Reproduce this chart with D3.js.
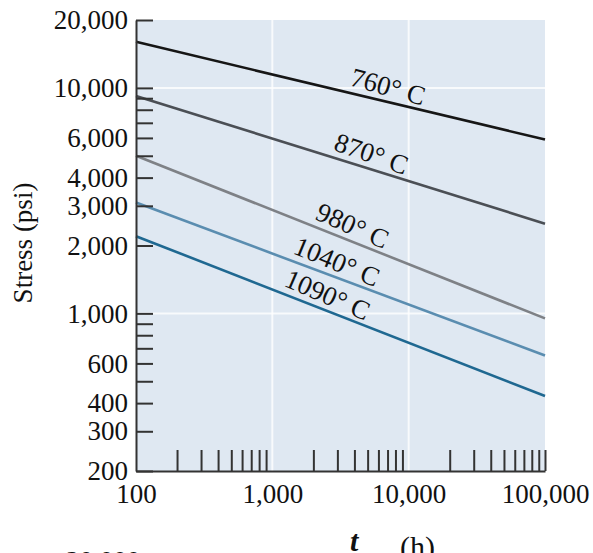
<!DOCTYPE html>
<html>
<head>
<meta charset="utf-8">
<script src="https://cdn.jsdelivr.net/npm/d3@7"></script>
<style>
  body { margin: 0; background: #fff; }
  svg { display: block; font-family: "Liberation Serif", "DejaVu Serif", serif; }
</style>
</head>
<body>
<svg class="chart" width="593" height="553"></svg>
<script>
// rupture curves, stress in psi at 100 h and at 100,000 h
var temps = ["760° C", "870° C", "980° C", "1040° C", "1090° C"];
var stressAt100h = [16000, 9200, 5000, 3100, 2200];
var stressAt100kh = [5900, 2500, 950, 650, 430];
var labelHours = [6600, 4900, 3500, 2700, 2300];
var colors = ["#161616", "#4b4f55", "#7e8186", "#5a8db0", "#1f6891"];

var yTicks = [20000, 10000, 9000, 8000, 7000, 6000, 5000, 4000, 3000, 2000,
              1000, 900, 800, 700, 600, 500, 400, 300, 200];
var yLabels = [20000, 10000, 6000, 4000, 3000, 2000, 1000, 600, 400, 300, 200];
var xMinor = [200, 300, 400, 500, 600, 700, 800, 900,
              2000, 3000, 4000, 5000, 6000, 7000, 8000, 9000,
              20000, 30000, 40000, 50000, 60000, 70000, 80000, 90000, 100000];
var xLabels = [100, 1000, 10000, 100000];
var gridX = [1000, 10000];
var gridY = [10000, 1000];

var svg = d3.select(".chart");
var plotL = 136, plotR = 545, plotT = 20, plotB = 471;

var x = d3.scaleLog().domain([100, 100000]).range([plotL, plotR]);
var y = d3.scaleLog().domain([200, 20000]).range([plotB, plotT]);
var fmt = d3.format(",");

// plot background
svg.append("rect")
    .attr("x", plotL).attr("y", plotT)
    .attr("width", plotR - plotL).attr("height", plotB - plotT)
    .attr("fill", "#dfe8f2");

// white grid
svg.selectAll(".gx").data(gridX).enter().append("line")
    .attr("x1", x).attr("x2", x)
    .attr("y1", plotT).attr("y2", plotB)
    .attr("stroke", "#fff").attr("stroke-width", 2).attr("opacity", 0.8);
svg.selectAll(".gy").data(gridY).enter().append("line")
    .attr("x1", plotL).attr("x2", plotR)
    .attr("y1", y).attr("y2", y)
    .attr("stroke", "#fff").attr("stroke-width", 2).attr("opacity", 0.8);

// curves
var line = d3.line()
    .x(function (d) { return x(d[0]); })
    .y(function (d) { return y(d[1]); });

temps.forEach(function (t, i) {
    var pts = [[100, stressAt100h[i]], [100000, stressAt100kh[i]]];
    svg.append("path")
        .attr("d", line(pts))
        .attr("fill", "none")
        .attr("stroke", colors[i])
        .attr("stroke-width", 2.6);

    // label sits just above the line, turned to its slope
    var ang = Math.atan2(y(pts[1][1]) - y(pts[0][1]), x(pts[1][0]) - x(pts[0][0])) * 180 / Math.PI;
    var h = labelHours[i];
    var s = Math.pow(10, d3.scaleLinear()
        .domain([2, 5])
        .range([Math.log10(pts[0][1]), Math.log10(pts[1][1])])(Math.log10(h)));
    svg.append("text")
        .attr("transform", "translate(" + x(h) + "," + y(s) + ") rotate(" + (ang + 2) + ")")
        .attr("dy", -6)
        .attr("text-anchor", "middle")
        .attr("font-size", 27)
        .attr("fill", "#111")
        .text(t);
});

// y axis, ticks pointing inward
var yAxis = svg.append("g")
    .attr("transform", "translate(" + plotL + ",0)")
    .call(d3.axisLeft(y)
        .tickValues(yTicks)
        .tickSize(-17)
        .tickSizeOuter(0)
        .tickPadding(8)
        .tickFormat(function (d) { return yLabels.indexOf(d) >= 0 ? fmt(d) : ""; }));
yAxis.selectAll("line").attr("stroke", "#333").attr("stroke-width", 2);
yAxis.select(".domain").attr("stroke", "#333").attr("stroke-width", 2);
yAxis.selectAll("text")
    .attr("font-family", "Liberation Serif")
    .attr("font-size", 27)
    .attr("fill", "#111");

// x axis minor ticks, pointing up
var xAxis = svg.append("g")
    .attr("transform", "translate(0," + plotB + ")")
    .call(d3.axisBottom(x)
        .tickValues(xMinor)
        .tickSize(-21)
        .tickSizeOuter(0)
        .tickFormat(""));
xAxis.selectAll("line").attr("stroke", "#333").attr("stroke-width", 2);
xAxis.select(".domain").attr("stroke", "#333").attr("stroke-width", 2);

// x labels
var xLab = svg.append("g")
    .attr("transform", "translate(0," + plotB + ")")
    .call(d3.axisBottom(x)
        .tickValues(xLabels)
        .tickSize(0)
        .tickPadding(13)
        .tickFormat(fmt));
xLab.select(".domain").remove();
xLab.selectAll("text")
    .attr("font-family", "Liberation Serif")
    .attr("font-size", 27)
    .attr("fill", "#111");

// y title
svg.append("text")
    .attr("transform", "translate(32,243) rotate(-90)")
    .attr("text-anchor", "middle")
    .attr("font-size", 27)
    .attr("fill", "#111")
    .text("Stress (psi)");

// x title, cut off by the page edge
svg.append("text")
    .attr("x", 350).attr("y", 551)
    .attr("font-size", 30)
    .attr("font-weight", "bold")
    .attr("font-style", "italic")
    .attr("fill", "#111")
    .text("t");
svg.append("text")
    .attr("x", 400).attr("y", 557)
    .attr("font-size", 30)
    .attr("fill", "#111")
    .text("(h)");
svg.append("text")
    .attr("x", 66).attr("y", 570)
    .attr("font-size", 27)
    .attr("fill", "#111")
    .text("20,000");
</script>
</body>
</html>
